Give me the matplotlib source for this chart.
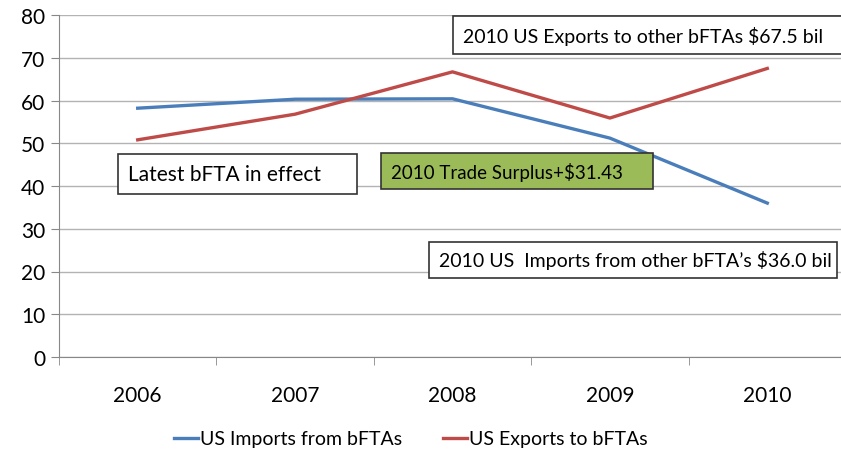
import matplotlib.pyplot as plt
from matplotlib.patches import Rectangle

years = ['2006', '2007', '2008', '2009', '2010']
imports = [58.2, 60.3, 60.4, 51.2, 36.0]
exports = [50.8, 56.8, 66.7, 55.9, 67.5]

plt.rcParams['font.family'] = ['Lato', 'DejaVu Sans']

W, H = 841, 456
fig = plt.figure(figsize=(W / 100, H / 100), dpi=100)
# axes runs a little past the right edge, like the cropped original
ax = fig.add_axes([59 / W, (H - 358) / H, (846 - 59) / W, (358 - 16) / H])

x = range(len(years))
ax.plot(x, imports, color='#4A7EBB', lw=2.4, label='US Imports from bFTAs')
ax.plot(x, exports, color='#BE4B48', lw=2.4, label='US Exports to bFTAs')

ax.set_xlim(-0.5, len(years) - 0.5)
ax.set_ylim(0, 80)
ax.set_yticks(range(0, 81, 10))
ax.set_xticks(list(x))
ax.set_xticklabels(years)
ax.set_xticks([i - 0.5 for i in range(len(years) + 1)], minor=True)
ax.tick_params(axis='x', which='major', length=0, pad=20, labelsize=15)
ax.tick_params(axis='x', which='minor', length=6, color='#888888')
ax.tick_params(axis='y', length=6, color='#888888', labelsize=15, pad=4)
ax.grid(axis='y', color='#b3b3b3', lw=1)
ax.set_axisbelow(True)
for s in ['top', 'right']:
    ax.spines[s].set_visible(False)
ax.spines['left'].set_color('#888888')
ax.spines['bottom'].set_color('#888888')

def box(x0, y0, x1, y1, text, size, fc='white'):
    fig.patches.append(Rectangle((x0 / W, 1 - y1 / H), (x1 - x0) / W, (y1 - y0) / H,
                                 transform=fig.transFigure, fc=fc, ec='#333333',
                                 lw=1.2, zorder=5))
    fig.text((x0 + 10) / W, 1 - (y0 + y1) / 2 / H, text, fontsize=size,
             va='center', ha='left', zorder=6)

box(118, 155, 357, 195, 'Latest bFTA in effect', 15)
box(381, 154, 653, 190, '2010 Trade Surplus+$31.43', 13.5, fc='#9BBB59')
box(429, 243, 837, 279, '2010 US  Imports from other bFTA\u2019s $36.0 bil', 14)
box(453, 17, 860, 55, '2010 US Exports to other bFTAs $67.5 bil', 14)

fig.legend(loc='center', bbox_to_anchor=(411 / W, 1 - 440 / H), ncol=2,
           frameon=False, fontsize=14, handlelength=1.25, handletextpad=0.1,
           columnspacing=2.1)

fig.savefig('out.png', dpi=100)
